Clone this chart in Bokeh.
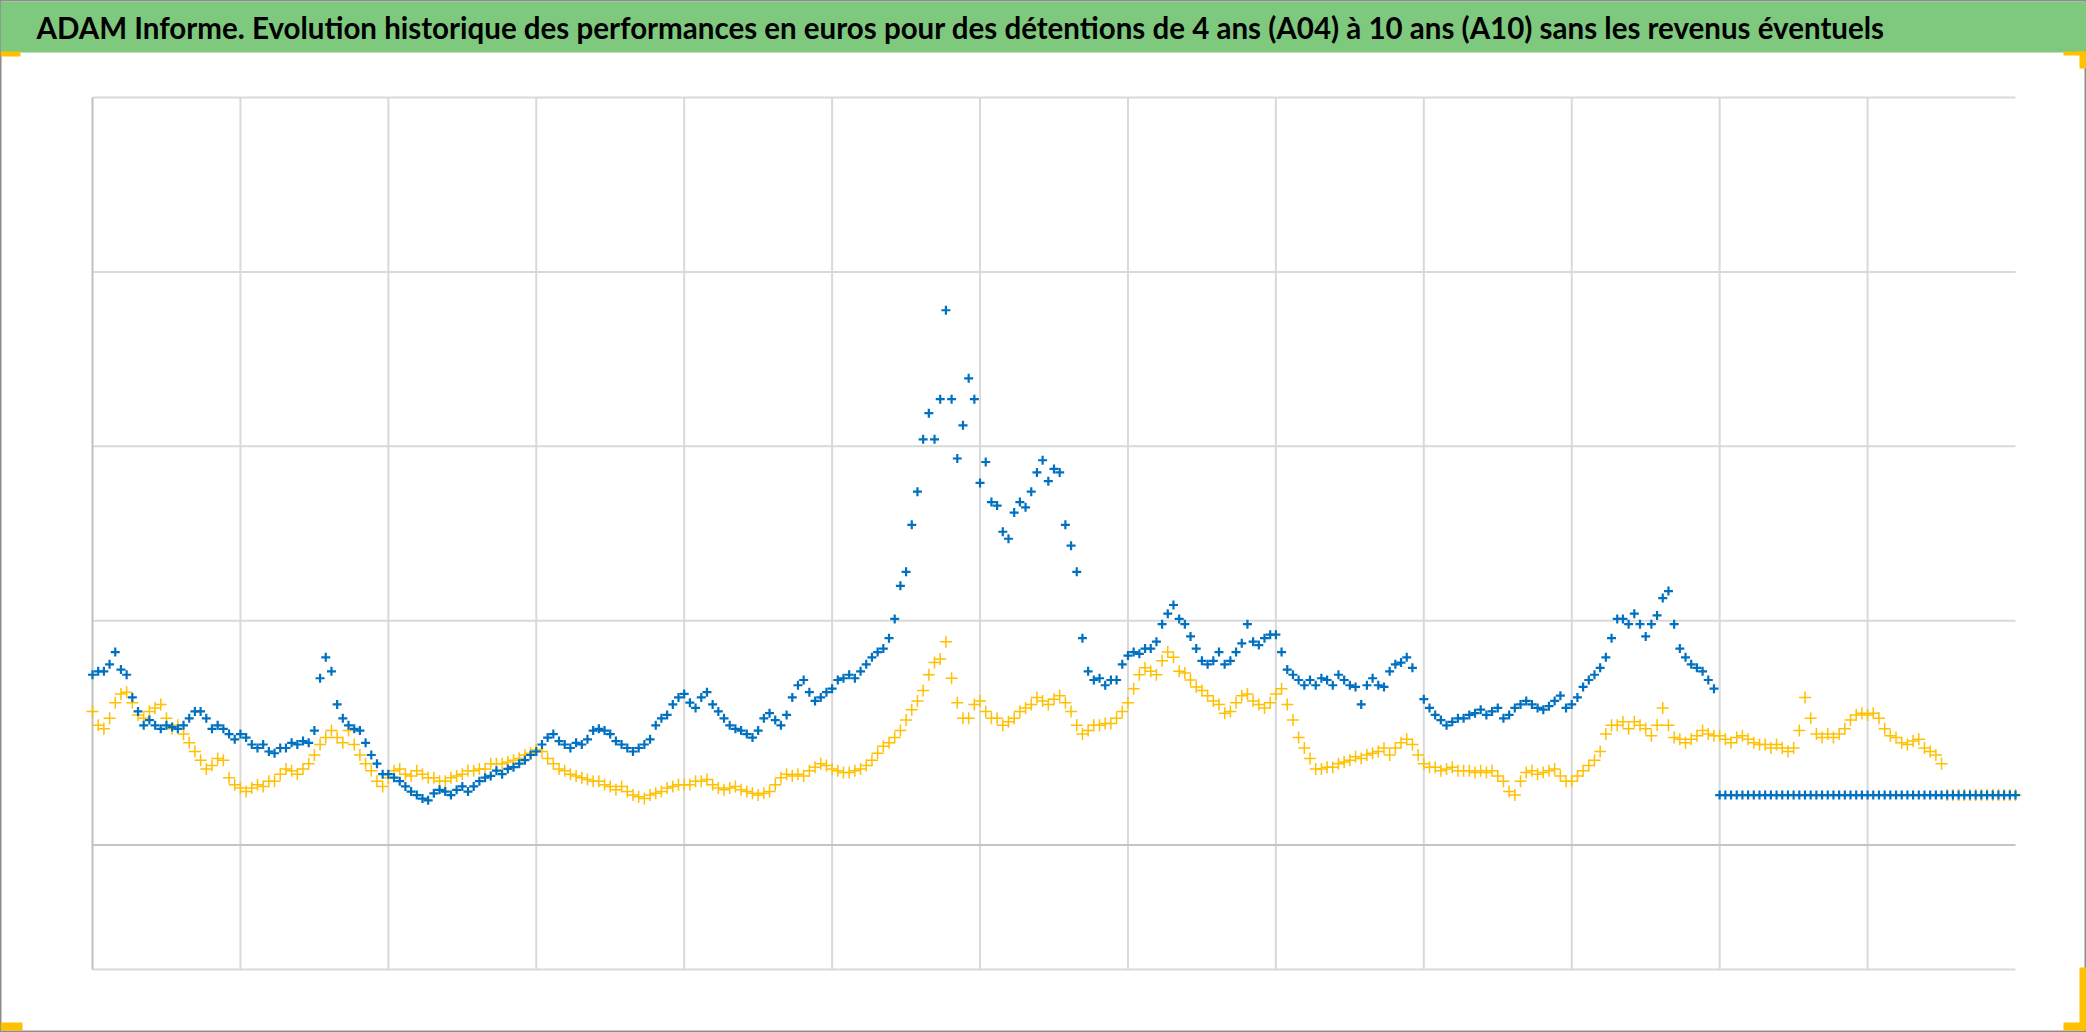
import numpy as np
from bokeh.plotting import figure
from bokeh.models import Range1d
from bokeh.core.properties import value
from bokeh.embed import file_html
from bokeh.resources import INLINE

nan = float("nan")

TITLE = ("ADAM Informe. Evolution historique des performances en euros pour des "
         "détentions de 4 ans (A04) à 10 ans (A10) sans les revenus éventuels")

# Time axis: 13 years, one sample every two weeks (26 per year)
SAMPLES_PER_YEAR = 26

# Yellow series (value units: one gridline = 1)
perf_yellow = [
    0.48, 0.40, 0.38, 0.44, 0.53, 0.58, 0.59, 0.53, 0.46, 0.44, 0.48, 0.50, 0.52, 0.44, 0.38, 0.40, 0.35, 0.30, 0.25, 0.20, 0.15, 0.17, 0.21, 0.20, 0.10, 0.06,
    0.04, 0.02, 0.04, 0.06, 0.05, 0.08, 0.08, 0.12, 0.15, 0.14, 0.12, 0.15, 0.18, 0.23, 0.29, 0.33, 0.37, 0.33, 0.30, 0.37, 0.29, 0.23, 0.18, 0.14, 0.08, 0.05,
    0.10, 0.14, 0.15, 0.12, 0.11, 0.14, 0.12, 0.10, 0.10, 0.08, 0.08, 0.10, 0.11, 0.12, 0.14, 0.14, 0.15, 0.15, 0.18, 0.18, 0.18, 0.19, 0.20, 0.21, 0.23, 0.24,
    0.26, 0.25, 0.21, 0.18, 0.15, 0.14, 0.12, 0.11, 0.10, 0.09, 0.08, 0.08, 0.06, 0.05, 0.03, 0.05, 0.02, 0.00, -0.01, -0.02, 0.00, 0.01, 0.02, 0.04, 0.05, 0.06,
    0.06, 0.06, 0.08, 0.08, 0.09, 0.06, 0.04, 0.03, 0.04, 0.05, 0.03, 0.02, 0.01, 0.00, 0.01, 0.02, 0.06, 0.10, 0.12, 0.11, 0.12, 0.11, 0.14, 0.16, 0.18, 0.17,
    0.15, 0.14, 0.13, 0.13, 0.14, 0.15, 0.17, 0.20, 0.24, 0.28, 0.30, 0.33, 0.37, 0.43, 0.49, 0.54, 0.60, 0.69, 0.76, 0.78, 0.88, 0.67, 0.53, 0.44, 0.44, 0.52,
    0.54, 0.48, 0.44, 0.44, 0.40, 0.42, 0.44, 0.48, 0.50, 0.52, 0.56, 0.54, 0.52, 0.55, 0.57, 0.53, 0.48, 0.40, 0.35, 0.37, 0.40, 0.40, 0.41, 0.41, 0.44, 0.48,
    0.53, 0.61, 0.69, 0.73, 0.71, 0.69, 0.77, 0.82, 0.79, 0.71, 0.70, 0.66, 0.62, 0.60, 0.57, 0.54, 0.52, 0.47, 0.48, 0.53, 0.57, 0.58, 0.54, 0.52, 0.50, 0.53,
    0.58, 0.61, 0.52, 0.43, 0.33, 0.27, 0.21, 0.15, 0.15, 0.16, 0.16, 0.18, 0.19, 0.20, 0.22, 0.21, 0.23, 0.24, 0.25, 0.27, 0.23, 0.27, 0.30, 0.32, 0.29, 0.23,
    0.18, 0.16, 0.16, 0.14, 0.15, 0.16, 0.14, 0.14, 0.14, 0.13, 0.14, 0.13, 0.14, 0.11, 0.08, 0.02, 0.00, 0.08, 0.13, 0.14, 0.12, 0.13, 0.14, 0.15, 0.11, 0.08,
    0.08, 0.11, 0.14, 0.17, 0.20, 0.25, 0.35, 0.40, 0.40, 0.42, 0.38, 0.42, 0.40, 0.38, 0.34, 0.40, 0.50, 0.40, 0.33, 0.32, 0.30, 0.32, 0.34, 0.37, 0.35, 0.34,
    0.34, 0.32, 0.30, 0.33, 0.34, 0.32, 0.30, 0.29, 0.29, 0.27, 0.29, 0.27, 0.25, 0.27, 0.37, 0.56, 0.44, 0.35, 0.33, 0.35, 0.33, 0.35, 0.38, 0.43, 0.46, 0.47,
    0.46, 0.47, 0.44, 0.38, 0.34, 0.33, 0.30, 0.29, 0.31, 0.32, 0.27, 0.25, 0.23, 0.18,
    0.0, 0.0, 0.0, 0.0, 0.0, 0.0, 0.0, 0.0, 0.0, 0.0, 0.0, 0.0, 0.0,
]

# Blue series (nan = no value)
perf_blue = [
    0.69, 0.71, 0.71, 0.75, 0.82, 0.72, 0.69, 0.56, 0.48, 0.40, 0.43, 0.40, 0.38, 0.40, 0.39, 0.38, 0.40, 0.44, 0.48, 0.48, 0.44, 0.38, 0.40, 0.38, 0.35, 0.32,
    0.35, 0.33, 0.29, 0.27, 0.29, 0.25, 0.24, 0.27, 0.27, 0.30, 0.29, 0.31, 0.30, 0.37, 0.67, 0.79, 0.71, 0.52, 0.44, 0.40, 0.38, 0.37, 0.30, 0.23, 0.18, 0.12,
    0.12, 0.10, 0.08, 0.05, 0.02, 0.00, -0.02, -0.03, 0.01, 0.03, 0.02, 0.00, 0.03, 0.05, 0.02, 0.05, 0.08, 0.10, 0.11, 0.14, 0.12, 0.15, 0.16, 0.18, 0.20, 0.23,
    0.25, 0.29, 0.33, 0.35, 0.31, 0.29, 0.27, 0.30, 0.29, 0.32, 0.37, 0.38, 0.37, 0.35, 0.31, 0.29, 0.27, 0.25, 0.27, 0.29, 0.32, 0.40, 0.44, 0.46, 0.52, 0.56,
    0.58, 0.53, 0.50, 0.56, 0.59, 0.52, 0.48, 0.44, 0.40, 0.38, 0.37, 0.35, 0.33, 0.37, 0.44, 0.47, 0.43, 0.40, 0.46, 0.56, 0.63, 0.66, 0.59, 0.54, 0.56, 0.59,
    0.61, 0.66, 0.67, 0.69, 0.67, 0.71, 0.75, 0.79, 0.82, 0.84, 0.90, 1.01, 1.20, 1.28, 1.55, 1.74, 2.04, 2.19, 2.04, 2.27, 2.78, 2.27, 1.93, 2.12, 2.39, 2.27,
    1.79, 1.91, 1.68, 1.66, 1.51, 1.47, 1.62, 1.68, 1.65, 1.74, 1.85, 1.92, 1.80, 1.87, 1.85, 1.55, 1.43, 1.28, 0.90, 0.71, 0.66, 0.67, 0.63, 0.66, 0.66, 0.75,
    0.80, 0.82, 0.81, 0.84, 0.84, 0.88, 0.98, 1.04, 1.09, 1.01, 0.98, 0.91, 0.84, 0.77, 0.75, 0.77, 0.82, 0.75, 0.77, 0.82, 0.87, 0.98, 0.88, 0.86, 0.90, 0.92,
    0.92, 0.82, 0.72, 0.69, 0.66, 0.63, 0.66, 0.63, 0.67, 0.66, 0.63, 0.69, 0.66, 0.63, 0.62, 0.52, 0.63, 0.67, 0.63, 0.62, 0.71, 0.75, 0.76, 0.79, 0.73, nan,
    0.55, 0.50, 0.46, 0.43, 0.40, 0.42, 0.44, 0.44, 0.46, 0.47, 0.49, 0.46, 0.48, 0.50, 0.44, 0.46, 0.50, 0.52, 0.54, 0.52, 0.50, 0.49, 0.51, 0.54, 0.57, 0.50,
    0.52, 0.56, 0.62, 0.66, 0.69, 0.73, 0.79, 0.90, 1.01, 1.01, 0.98, 1.04, 0.98, 0.91, 0.98, 1.03, 1.13, 1.17, 0.98, 0.84, 0.79, 0.75, 0.73, 0.71, 0.66, 0.61,
    0.0, 0.0, 0.0, 0.0, 0.0, 0.0, 0.0, 0.0, 0.0, 0.0, 0.0, 0.0, 0.0, 0.0, 0.0, 0.0, 0.0, 0.0, 0.0, 0.0, 0.0, 0.0, 0.0, 0.0, 0.0, 0.0,
    0.0, 0.0, 0.0, 0.0, 0.0, 0.0, 0.0, 0.0, 0.0, 0.0, 0.0, 0.0, 0.0, 0.0, 0.0, 0.0, 0.0, 0.0, 0.0, 0.0, 0.0, 0.0, 0.0, 0.0, 0.0, 0.0,
    0.0,
]

years_yellow = np.arange(len(perf_yellow)) / SAMPLES_PER_YEAR
years_blue = np.arange(len(perf_blue)) / SAMPLES_PER_YEAR

X_MIN, X_MAX = 0, 13
Y_MIN, Y_MAX = -1, 4
X_GRID = list(range(1, 13))
Y_GRID = [-1, 1, 2, 3, 4]
AXIS_CROSS = -0.286

# ---- layout (pixels inside the canvas) ----
W, H = 2086, 1032
PLOT_L, PLOT_R, PLOT_T, PLOT_B = 92, 2015, 97, 969
SX = (PLOT_R - PLOT_L) / (X_MAX - X_MIN)
SY = (PLOT_B - PLOT_T) / (Y_MAX - Y_MIN)


def cx(px):
    return X_MIN + (px - PLOT_L) / SX


def cy(py):
    return Y_MAX - (py - PLOT_T) / SY


p = figure(width=W, height=H, x_range=Range1d(cx(0), cx(W)), y_range=Range1d(cy(H), cy(0)),
           output_backend="svg", toolbar_location=None,
           min_border_left=0, min_border_right=0, min_border_top=0, min_border_bottom=0)
p.axis.visible = False
p.grid.grid_line_color = None
p.outline_line_color = "#8C8C8C"
p.outline_line_width = 2
p.background_fill_color = "white"
p.border_fill_color = "white"

# gridlines
p.segment(x0=X_GRID, x1=X_GRID, y0=[Y_MIN] * len(X_GRID), y1=[Y_MAX] * len(X_GRID),
          line_color="#D9D9D9", line_width=2)
p.segment(x0=[X_MIN] * len(Y_GRID), x1=[X_MAX] * len(Y_GRID), y0=Y_GRID, y1=Y_GRID,
          line_color="#D9D9D9", line_width=2)
# value axis line and category axis line
p.segment(x0=[X_MIN], x1=[X_MIN], y0=[Y_MIN], y1=[Y_MAX], line_color="#BFBFBF", line_width=2)
p.segment(x0=[X_MIN], x1=[X_MAX], y0=[AXIS_CROSS], y1=[AXIS_CROSS], line_color="#C4C4C4", line_width=2)

p.scatter(years_yellow, perf_yellow, marker="cross", size=12,
          line_color="#FFC000", line_width=1.5)
p.scatter(years_blue, perf_blue, marker="cross", size=9,
          line_color="#0070C0", line_width=2.2)

# title bar
p.quad(left=[cx(0)], right=[cx(W)], top=[cy(1)], bottom=[cy(52)],
       fill_color="#7FC97F", line_color=None)
p.text(x=[cx(36)], y=[cy(27)], text=[TITLE], text_baseline="alphabetic", text_align="left",
       text_font=value("Lato"), text_font_style="bold",
       text_font_size="29.5px", text_color="black")

# selection handles at the corners
handles = [(0, 20, 51, 56), (2063, W, 51, 55), (2079, W, 51, 68),
           (0, 22, 1022, 1030), (2079, W, 967, 1030), (2063, W, 1022, 1030)]
p.quad(left=[cx(h[0]) for h in handles], right=[cx(h[1]) for h in handles],
       top=[cy(h[2]) for h in handles], bottom=[cy(h[3]) for h in handles],
       fill_color="#FFC000", line_color=None)

open("out.html", "w").write(file_html(p, INLINE))
